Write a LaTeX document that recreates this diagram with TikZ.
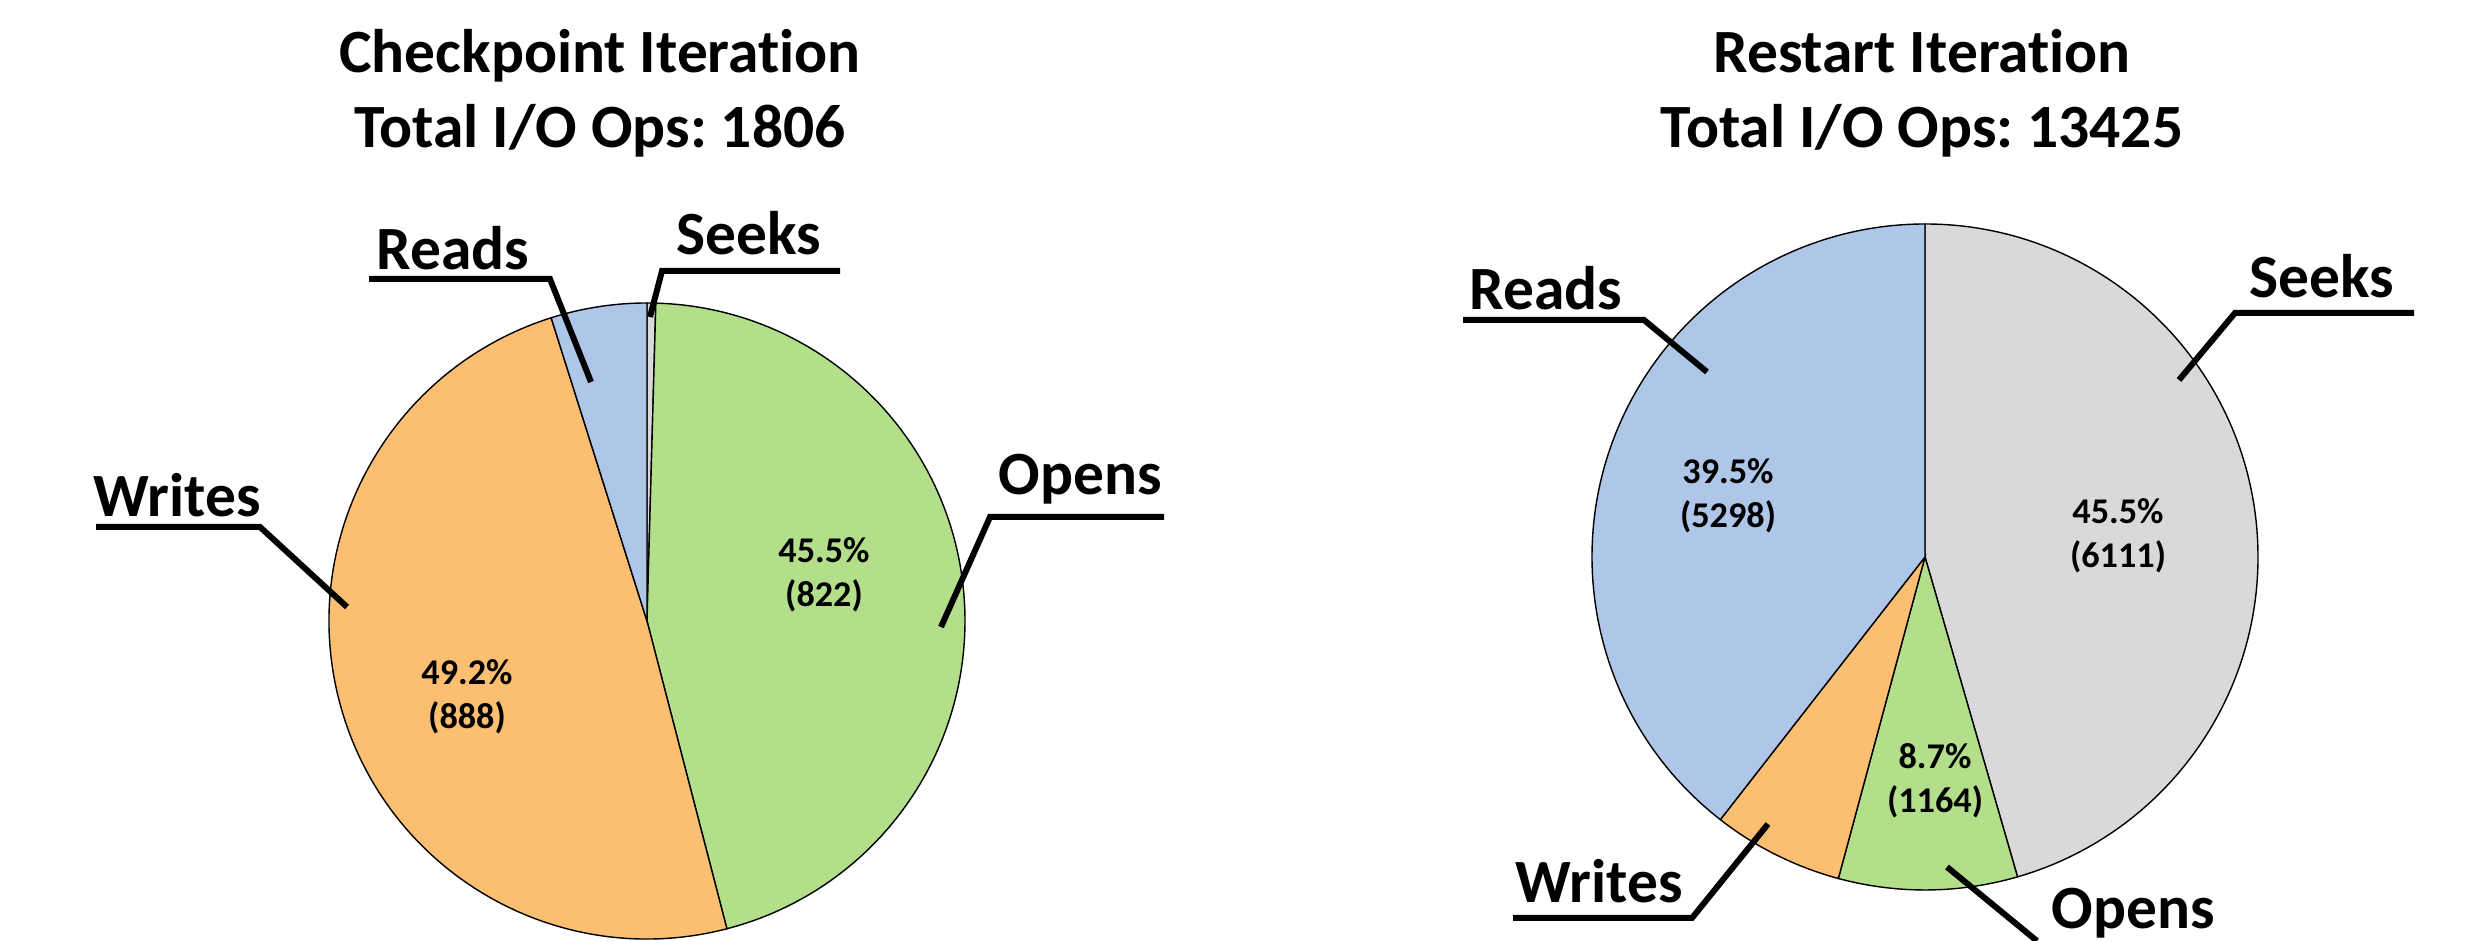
\documentclass[tikz,border=0pt]{standalone}
\usepackage{fontspec}
\setmainfont{Carlito}[Ligatures=NoCommon]
\usepackage{tikz}
\usetikzlibrary{positioning,calc}
\frenchspacing

\definecolor{seekgrey}{HTML}{D9D9D9}
\definecolor{opengreen}{HTML}{B3DF8B}
\definecolor{writeorange}{HTML}{FCBF71}
\definecolor{readblue}{HTML}{AEC6E8}

\begin{document}
\begin{tikzpicture}[x=0.1mm,y=0.1mm,
  slice/.style={draw=black,line width=0.4pt},
  title/.style={font=\fontsize{17.5}{21}\selectfont\bfseries,anchor=base,inner sep=0pt},
  lbl/.style={font=\fontsize{17.5}{21}\selectfont\bfseries,anchor=base,inner sep=0pt},
  pct/.style={font=\fontsize{10.3}{12.5}\selectfont\bfseries,align=center,inner sep=0pt},
  leader/.style={draw=black,line width=0.6mm}]

  \useasboundingbox (0,0) rectangle (2471,941);

  % checkpoint iteration
  \coordinate (cp) at (647,320);
  \foreach \a/\b/\c in {90/88.405/seekgrey, 88.405/-75.449/opengreen,
      -75.449/-252.458/writeorange, -252.458/-270/readblue}
    \filldraw[slice,fill=\c] (cp) -- ++(\a:31.8mm)
      arc[start angle=\a,end angle=\b,radius=31.8mm] -- cycle;

  \node[title] (cptitle) at (600,868) {Checkpoint Iteration};
  \node[title] (cptotal) at (600,793) {Total I/O Ops: 1806};

  \node[pct] (cpopenpct) at (824,366) {45.5\%\\(822)};
  \node[pct] (cpwritepct) at (467,244) {49.2\%\\(888)};

  \node[lbl] (cpreads) at (453,671) {Reads};
  \node[lbl] (cpseeks) at (749,686) {Seeks};
  \node[lbl] (cpwrites) at (177,424) {Writes};
  \node[lbl] (cpopens) at (1080,446) {Opens};

  \coordinate (cpreadsA) at (369,662);
  \coordinate (cpreadsB) at (550,662);
  \coordinate (cpreadsC) at (591,559);
  \coordinate (cpseeksA) at (840,670);
  \coordinate (cpseeksB) at (662,670);
  \coordinate (cpseeksC) at (650,624);
  \coordinate (cpwritesA) at (96,414);
  \coordinate (cpwritesB) at (260,414);
  \coordinate (cpwritesC) at (347,334);
  \coordinate (cpopensA) at (1164,424);
  \coordinate (cpopensB) at (990,424);
  \coordinate (cpopensC) at (941,314);

  \draw[leader] (cpreadsA) -- (cpreadsB) -- (cpreadsC);
  \draw[leader] (cpseeksA) -- (cpseeksB) -- (cpseeksC);
  \draw[leader] (cpwritesA) -- (cpwritesB) -- (cpwritesC);
  \draw[leader] (cpopensA) -- (cpopensB) -- (cpopensC);

  % restart iteration
  \coordinate (rs) at (1925,384);
  \foreach \a/\b/\c in {90/-73.870/seekgrey, -73.870/-105.084/opengreen,
      -105.084/-127.930/writeorange, -127.930/-270/readblue}
    \filldraw[slice,fill=\c] (rs) -- ++(\a:33.3mm)
      arc[start angle=\a,end angle=\b,radius=33.3mm] -- cycle;

  \node[title] (rstitle) at (1922,868) {Restart Iteration};
  \node[title] (rstotal) at (1922,793) {Total I/O Ops: 13425};

  \node[pct] (rsreadpct) at (1728,445) {39.5\%\\(5298)};
  \node[pct] (rsseekpct) at (2118,405) {45.5\%\\(6111)};
  \node[pct] (rsopenpct) at (1935,160) {8.7\%\\(1164)};

  \node[lbl] (rsreads) at (1546,631) {Reads};
  \node[lbl] (rsseeks) at (2322,643) {Seeks};
  \node[lbl] (rswrites) at (1599,38) {Writes};
  \node[lbl] (rsopens) at (2133,12) {Opens};

  \coordinate (rsreadsA) at (1463,621);
  \coordinate (rsreadsB) at (1644,621);
  \coordinate (rsreadsC) at (1707,569);
  \coordinate (rsseeksA) at (2414,628);
  \coordinate (rsseeksB) at (2235,628);
  \coordinate (rsseeksC) at (2179,561);
  \coordinate (rswritesA) at (1513,23);
  \coordinate (rswritesB) at (1692,23);
  \coordinate (rswritesC) at (1768,117);
  \coordinate (rsopensB) at (2037,0);
  \coordinate (rsopensC) at (1947,74);

  \draw[leader] (rsreadsA) -- (rsreadsB) -- (rsreadsC);
  \draw[leader] (rsseeksA) -- (rsseeksB) -- (rsseeksC);
  \draw[leader] (rswritesA) -- (rswritesB) -- (rswritesC);
  \draw[leader] (rsopensB) -- (rsopensC);

\end{tikzpicture}
\end{document}
